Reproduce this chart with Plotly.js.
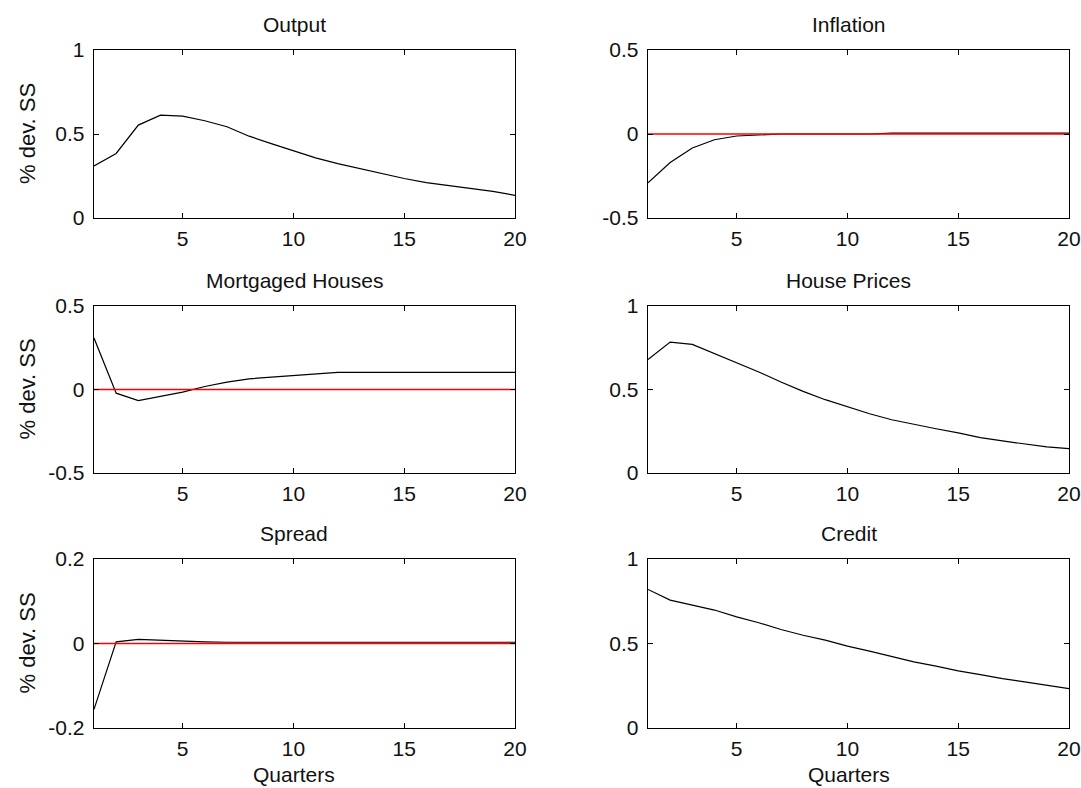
<!DOCTYPE html>
<html>
<head>
<meta charset="utf-8">
<script src="https://cdn.plot.ly/plotly-3.0.1.min.js"></script>
<style>html,body{margin:0;padding:0;background:#fff;}#chart{width:1081px;height:788px;}</style>
</head>
<body>
<div id="chart"></div>
<script>
// ---- data ----
var quarters = [1,2,3,4,5,6,7,8,9,10,11,12,13,14,15,16,17,18,19,20];
var titles = ["Output", "Inflation", "Mortgaged Houses", "House Prices", "Spread", "Credit"];
var output = [0.31,0.384,0.553,0.612,0.606,0.579,0.543,0.487,0.443,0.40,0.358,0.324,0.294,0.264,0.235,0.211,0.195,0.179,0.159,0.135];
var inflation = [-0.29,-0.17,-0.083,-0.034,-0.012,-0.004,0,0,0,0,0,0.005,0.005,0.005,0.005,0.005,0.005,0.005,0.005,0.005];
var mortgaged = [0.308,-0.022,-0.066,-0.042,-0.016,0.018,0.044,0.064,0.074,0.083,0.093,0.103,0.103,0.103,0.103,0.103,0.103,0.103,0.103,0.103];
var housePrices = [0.679,0.784,0.770,0.715,0.661,0.605,0.545,0.489,0.439,0.395,0.355,0.319,0.291,0.265,0.240,0.212,0.192,0.176,0.156,0.146];
var spread = [-0.156,0.004,0.010,0.008,0.005,0.004,0.003,0.003,0.003,0.003,0.003,0.003,0.003,0.003,0.003,0.003,0.003,0.003,0.003,0.003];
var credit = [0.82,0.757,0.727,0.698,0.658,0.623,0.583,0.549,0.520,0.484,0.455,0.421,0.391,0.366,0.338,0.316,0.292,0.273,0.253,0.233];
var zeroLine = [0,0,0,0,0,0,0,0,0,0,0,0,0,0,0,0,0,0,0,0];
var series = [output, inflation, mortgaged, housePrices, spread, credit];
var showZero = [false, true, true, false, true, false];
var yRanges = [[0,1],[-0.5,0.5],[-0.5,0.5],[0,1],[-0.2,0.2],[0,1]];
var yTicks = [[0,0.5,1],[-0.5,0,0.5],[-0.5,0,0.5],[0,0.5,1],[-0.2,0,0.2],[0,0.5,1]];
var yTickText = [["0","0.5","1"],["-0.5","0","0.5"],["-0.5","0","0.5"],["0","0.5","1"],["-0.2","0","0.2"],["0","0.5","1"]];
var xTicks = [5,10,15,20];
var xTickText = ["5","10","15","20"];
var yLabel = "% dev. SS";
var xLabel = "Quarters";

// ---- layout geometry (pixels) ----
var W = 1081, H = 788;
var colX = [[94,515],[648,1069]];
var rowY = [[50,218],[306,473],[559,728]];
var FONT = "Liberation Sans, Arial, sans-serif";
var FS = 21;

var traces = [];
var layout = {
  width: W, height: H,
  margin: {l:0, r:0, t:0, b:0},
  paper_bgcolor: "#fff", plot_bgcolor: "#fff",
  showlegend: false,
  font: {family: FONT, size: FS, color: "#000"},
  annotations: []
};

for (var i = 0; i < 6; i++) {
  var r = Math.floor(i/2), c = i % 2;
  var n = i + 1;
  var xa = "x" + (n === 1 ? "" : n), ya = "y" + (n === 1 ? "" : n);
  var xkey = "xaxis" + (n === 1 ? "" : n), ykey = "yaxis" + (n === 1 ? "" : n);
  traces.push({x: quarters, y: series[i], type: "scatter", mode: "lines",
    line: {color: "#000", width: 1.2}, xaxis: xa, yaxis: ya, hoverinfo: "skip"});
  if (showZero[i]) {
    traces.push({x: quarters, y: zeroLine, type: "scatter", mode: "lines",
      line: {color: "#ff0000", width: 1.4}, xaxis: xa, yaxis: ya, hoverinfo: "skip"});
  }
  layout[xkey] = {
    domain: [colX[c][0]/W, colX[c][1]/W], anchor: ya,
    range: [1, 20], tickmode: "array", tickvals: xTicks, ticktext: xTickText,
    ticks: "inside", ticklen: 5, tickwidth: 1, tickcolor: "#000",
    showline: true, linecolor: "#000", linewidth: 1.3, mirror: "ticks",
    showgrid: false, zeroline: false, fixedrange: true,
    tickfont: {family: FONT, size: FS, color: "#111"}, ticklabelstandoff: 1
  };
  layout[ykey] = {
    domain: [1 - rowY[r][1]/H, 1 - rowY[r][0]/H], anchor: xa,
    range: yRanges[i], tickmode: "array", tickvals: yTicks[i], ticktext: yTickText[i],
    ticks: "inside", ticklen: 5, tickwidth: 1, tickcolor: "#000",
    showline: true, linecolor: "#000", linewidth: 1.3, mirror: "ticks",
    showgrid: false, zeroline: false, fixedrange: true,
    tickfont: {family: FONT, size: FS, color: "#111"}, ticklabelstandoff: 4
  };
  // subplot title
  var cx = (colX[c][0] + colX[c][1]) / 2 - 10;
  layout.annotations.push({text: titles[i], xref: "paper", yref: "paper",
    x: cx / W, y: 1 - rowY[r][0]/H, xanchor: "center", yanchor: "bottom",
    yshift: 12, showarrow: false, font: {family: FONT, size: FS, color: "#111"}});
  if (c === 0) {
    layout.annotations.push({text: yLabel, xref: "paper", yref: "paper",
      x: 27 / W, y: 1 - ((rowY[r][0] + rowY[r][1]) / 2) / H, xanchor: "center", yanchor: "middle",
      textangle: -90, showarrow: false, font: {family: FONT, size: 22, color: "#111"}});
  }
  if (r === 2) {
    layout.annotations.push({text: xLabel, xref: "paper", yref: "paper",
      x: cx / W, y: 1 - 774 / H, xanchor: "center", yanchor: "middle", borderpad: 0,
      showarrow: false, font: {family: FONT, size: FS, color: "#111"}});
  }
}

Plotly.newPlot("chart", traces, layout, {displayModeBar: false, staticPlot: true});
</script>
</body>
</html>
